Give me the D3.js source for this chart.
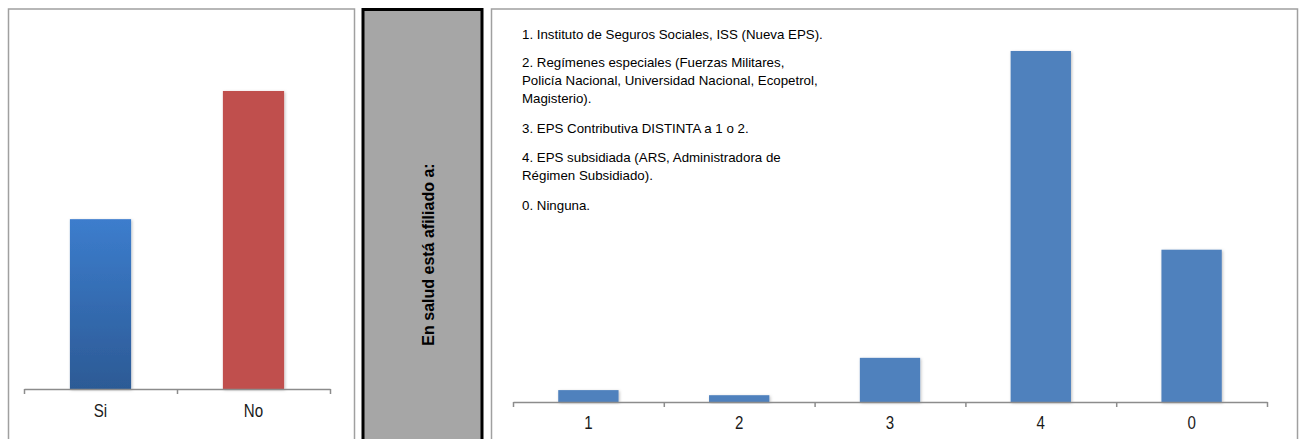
<!DOCTYPE html>
<html>
<head>
<meta charset="utf-8">
<script src="https://cdn.jsdelivr.net/npm/d3@7"></script>
<style>
  html, body { margin: 0; padding: 0; background: #ffffff; }
  svg { display: block; }
</style>
</head>
<body>
<svg id="chart" width="1303" height="439"></svg>
<script>
// ---------- data ----------
const leftCategories = ["Si", "No"];
const leftValues = [36.3, 63.7];
const leftColors = ["#3b7bcb", "#c0504d"];

const rightCategories = ["1", "2", "3", "4", "0"];
const rightValues = [2.1, 1.2, 7.8, 62.0, 26.9];

const sideTitle = "En salud está afiliado a:";

const legendParagraphs = [
  ["1. Instituto de Seguros Sociales, ISS (Nueva EPS)."],
  ["2. Regímenes especiales (Fuerzas Militares,", "Policía Nacional, Universidad Nacional, Ecopetrol,", "Magisterio)."],
  ["3. EPS Contributiva DISTINTA a 1 o 2."],
  ["4. EPS subsidiada (ARS, Administradora de", "Régimen Subsidiado)."],
  ["0. Ninguna."]
];

const yMax = 70;

// ---------- setup ----------
const svg = d3.select("#chart");
const labelFont = "'Liberation Sans Narrow', 'Arial Narrow', 'Liberation Sans', Arial, sans-serif";
const textFont = "'Liberation Sans', Arial, sans-serif";
const axisColor = "#8c8c8c";

// detect whether a narrow face is really available; otherwise squeeze horizontally
const probeN = svg.append("text").attr("font-family", labelFont).attr("font-size", 18).text("No Si 1234");
const probeR = svg.append("text").attr("font-family", textFont).attr("font-size", 18).text("No Si 1234");
const narrowRatio = probeN.node().getComputedTextLength() / probeR.node().getComputedTextLength();
probeN.remove(); probeR.remove();
const labelSqueeze = narrowRatio > 0.9 ? 0.84 : 1;

const defs = svg.append("defs");
const grad = defs.append("linearGradient")
  .attr("id", "blueGrad").attr("x1", 0).attr("y1", 0).attr("x2", 0).attr("y2", 1);
grad.append("stop").attr("offset", "0%").attr("stop-color", "#3c7dcd");
grad.append("stop").attr("offset", "100%").attr("stop-color", "#2c5a95");

const shadow = defs.append("filter").attr("id", "shadow")
  .attr("x", "-20%").attr("y", "-20%").attr("width", "140%").attr("height", "140%");
shadow.append("feDropShadow").attr("dx", 1).attr("dy", 1)
  .attr("stdDeviation", 1.5).attr("flood-color", "#000").attr("flood-opacity", 0.25);

// ---------- panel frames ----------
svg.append("rect").attr("x", 8.5).attr("y", 9).attr("width", 346).attr("height", 440)
  .attr("fill", "#fff").attr("stroke", "#a0a0a0").attr("stroke-width", 1.5);

svg.append("rect").attr("x", 363).attr("y", 9.5).attr("width", 119).attr("height", 440)
  .attr("fill", "#a6a6a6").attr("stroke", "#000").attr("stroke-width", 3);

svg.append("rect").attr("x", 491.5).attr("y", 9).attr("width", 806).attr("height", 440)
  .attr("fill", "#fff").attr("stroke", "#a0a0a0").attr("stroke-width", 1.5);

// ---------- generic bar chart ----------
function drawBars(cfg) {
  const g = svg.append("g");
  const x = d3.scaleBand().domain(cfg.categories).range([cfg.x0, cfg.x1]).padding(0);
  const xb = d3.scaleLinear().domain([0, cfg.categories.length]).range([cfg.x0, cfg.x1]);
  const y = d3.scaleLinear().domain([0, yMax]).range([cfg.base, cfg.base - cfg.h]);
  const bw = x.bandwidth() * 0.4;

  g.selectAll("rect.bar")
    .data(cfg.values)
    .join("rect")
    .attr("class", "bar")
    .attr("x", (d, i) => x(cfg.categories[i]) + (x.bandwidth() - bw) / 2)
    .attr("y", d => y(d))
    .attr("width", bw)
    .attr("height", d => cfg.base - y(d))
    .attr("fill", (d, i) => cfg.fill(i))
    .attr("filter", "url(#shadow)");

  // axis line with boundary ticks
  const axisB = g.append("g")
    .attr("transform", `translate(0,${cfg.base})`)
    .call(d3.axisBottom(xb).tickValues(d3.range(cfg.categories.length + 1))
      .tickFormat("").tickSize(5).tickSizeOuter(0));
  axisB.select(".domain").attr("stroke", axisColor).attr("stroke-width", 1.5);
  axisB.selectAll(".tick line").attr("stroke", axisColor).attr("stroke-width", 1.5);

  // category labels
  const axisL = g.append("g")
    .attr("transform", `translate(0,${cfg.base})`)
    .call(d3.axisBottom(x).tickSize(0).tickPadding(cfg.labelPad));
  axisL.select(".domain").remove();
  axisL.selectAll(".tick text")
    .attr("font-family", labelFont)
    .attr("font-size", 18)
    .attr("fill", "#1a1a1a")
    .attr("transform", `scale(${labelSqueeze},1)`);
}

drawBars({
  categories: leftCategories, values: leftValues,
  x0: 24, x1: 330, base: 389, h: 327.5, labelPad: 15,
  fill: i => i === 0 ? "url(#blueGrad)" : leftColors[i]
});

drawBars({
  categories: rightCategories, values: rightValues,
  x0: 513, x1: 1267, base: 402, h: 396.3, labelPad: 14,
  fill: () => "#4f81bd"
});

// ---------- side title ----------
svg.append("text")
  .attr("transform", "translate(428,254.5) rotate(-90)")
  .attr("text-anchor", "middle")
  .attr("dominant-baseline", "central")
  .attr("font-family", textFont)
  .attr("font-weight", "bold")
  .attr("font-size", 16)
  .attr("fill", "#000")
  .text(sideTitle);

// ---------- legend text ----------
const baselines = [[39], [67, 85, 103], [133], [162, 180], [210]];
const lg = svg.append("g").attr("font-family", textFont).attr("font-size", 13.3).attr("fill", "#000");
legendParagraphs.forEach((para, pi) => {
  para.forEach((line, li) => {
    lg.append("text").attr("x", 522).attr("y", baselines[pi][li]).text(line);
  });
});
</script>
</body>
</html>
